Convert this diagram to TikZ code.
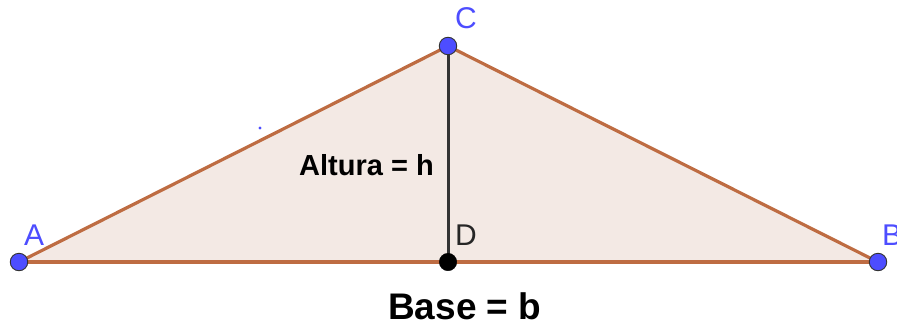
\documentclass[tikz,border=0pt]{standalone}
\usepackage{fontspec}
\setmainfont{Liberation Sans}
\definecolor{edgebrown}{RGB}{190,108,66}
\definecolor{fillbrown}{RGB}{243,233,228}
\definecolor{ptblue}{RGB}{77,77,255}
\definecolor{altgray}{RGB}{51,51,51}
\tikzset{
  bpt/.style={circle,fill=ptblue,draw=black!80,line width=0.9pt,minimum size=17.5pt,inner sep=0pt},
  kpt/.style={circle,fill=black,draw=black,minimum size=17.5pt,inner sep=0pt},
  plabel/.style={text=ptblue,font=\fontsize{30}{30}\selectfont,anchor=base west,inner sep=0pt},
  side/.style={draw=edgebrown,line width=3.2pt},
}
\begin{document}
\begin{tikzpicture}[x=1pt,y=-1pt]
\useasboundingbox (0,0) rectangle (897,327);
\coordinate (A) at (19,262);
\coordinate (B) at (878,262);
\coordinate (C) at (448,46);
\coordinate (D) at (448,262);
\fill[fillbrown] (A) -- (B) -- (C) -- cycle;
\draw[side] (A) -- (B);
\draw[side] (B) -- (C);
\draw[side] (C) -- (A);
\draw[altgray,line width=3pt] (C) -- (D);
\node[bpt] (pA) at (A) {};
\node[bpt] (pB) at (B) {};
\node[bpt] (pC) at (C) {};
\node[kpt] (pD) at (D) {};
\fill[ptblue] (260,128) circle (1.6);
\node[plabel] (lA) at (24,245) {A};
\node[plabel] (lB) at (882,245) {B};
\node[plabel] (lC) at (455,28) {C};
\node[plabel,text=black!85] (lD) at (455,245) {D};
\node[anchor=base west,inner sep=0pt,font=\bfseries\fontsize{29}{29}\selectfont] (alt) at (299,175) {Altura = h};
\node[anchor=base west,inner sep=0pt,font=\bfseries\fontsize{37}{37}\selectfont] (base) at (388,319) {Base = b};
\end{tikzpicture}
\end{document}
